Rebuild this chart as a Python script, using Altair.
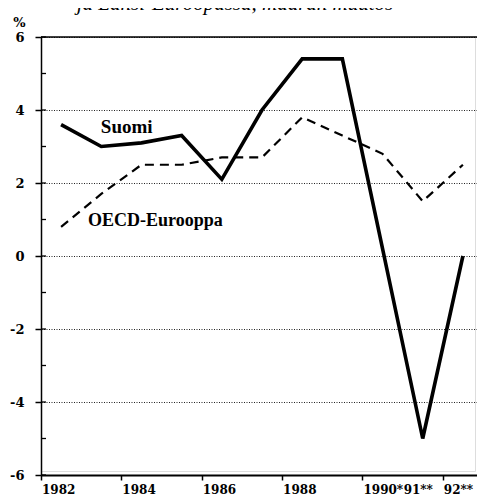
import altair as alt
import pandas as pd

# data
years = [1982, 1983, 1984, 1985, 1986, 1987, 1988, 1989, 1990, 1991, 1992]
suomi = [3.6, 3.0, 3.1, 3.3, 2.1, 4.0, 5.4, 5.4, 0.2, -5.0, 0.0]
oecd = [0.8, 1.7, 2.5, 2.5, 2.7, 2.7, 3.8, 3.3, 2.8, 1.5, 2.5]

tick_years = list(range(1982, 1994))
label_years = [1982, 1984, 1986, 1988, 1990, 1991, 1992]
label_texts = ["1982", "1984", "1986", "1988", "1990*", "91**", "92**"]
y_ticks = [-6, -4, -2, 0, 2, 4, 6]
minor_ticks = list(range(-6, 7))
x_domain = [1982, 1993]
y_domain = [-6, 6]

series_labels = ["Suomi", "OECD-Eurooppa"]
label_x = [1983.49, 1983.17]
label_y = [3.37, 0.82]
label_size = [19, 18]

title_text = "ja Länsi-Euroopassa, määrän muutos"

df = pd.DataFrame({"year": years, "Suomi": suomi, "OECD": oecd})
lab_df = pd.DataFrame({"label": series_labels, "lx": label_x, "ly": label_y, "fs": label_size})
xlab_df = pd.DataFrame({"yr": label_years, "txt": label_texts})
tick_df = pd.DataFrame({"v": minor_ticks})
title_df = pd.DataFrame({"t": [title_text]})
top_df = pd.DataFrame({"x1": [x_domain[0]], "x2": [x_domain[1]], "y": [y_domain[1]]})
right_df = pd.DataFrame({"x": [x_domain[1]], "y1": [y_domain[0]], "y2": [y_domain[1]]})

W, H = 434, 434        # view size (svg must stay narrow enough)
RW, RH = 442, 438      # drawing range of the scales

x_scale = alt.Scale(domain=x_domain, range=[0, RW], nice=False, zero=False)
y_scale = alt.Scale(domain=y_domain, range=[RH, 0], nice=False, zero=False)

x_axis = alt.Axis(
    values=tick_years, labels=False, title=None, grid=False, offset=RH - H,
    tickSize=5, tickWidth=1.5, tickColor="black",
    domainColor="black", domainWidth=2,
)
y_axis = alt.Axis(
    values=y_ticks, labelExpr="datum.value + ''", title="%", titleAngle=0,
    titleX=-22, titleY=-15,
    titleAlign="center", titleBaseline="middle", titleFont="DejaVu Serif",
    titleFontWeight="bold", titleFontSize=13, titleColor="black",
    grid=True, gridDash=[1, 1.5], gridColor="#222", gridWidth=1,
    tickSize=6, tickWidth=1.5, tickColor="black", labelPadding=11,
    labelFont="DejaVu Serif", labelFontWeight="bold", labelFontSize=13,
    labelColor="black", domainColor="black", domainWidth=1.5,
)

base = alt.Chart(df).transform_calculate(xpos="datum.year + 0.5")

suomi_line = base.mark_line(color="black", strokeWidth=3.6, strokeJoin="miter").encode(
    x=alt.X("xpos:Q", scale=x_scale, axis=x_axis),
    y=alt.Y("Suomi:Q", scale=y_scale, axis=y_axis),
)
oecd_line = base.mark_line(color="black", strokeWidth=2.2, strokeDash=[9, 6]).encode(
    x=alt.X("xpos:Q", scale=x_scale),
    y=alt.Y("OECD:Q", scale=y_scale),
)

labels = alt.Chart(lab_df).mark_text(
    align="left", baseline="alphabetic", font="Liberation Serif",
    fontWeight="bold", color="black",
).encode(
    x=alt.X("lx:Q", scale=x_scale),
    y=alt.Y("ly:Q", scale=y_scale),
    text="label:N",
    size=alt.Size("fs:Q", scale=None, legend=None),
)

x_labels = alt.Chart(xlab_df).mark_text(
    align="left", baseline="top", font="DejaVu Serif", fontWeight="bold",
    fontSize=12, color="black", dx=1,
).encode(
    x=alt.X("yr:Q", scale=x_scale),
    y=alt.value(RH + 10),
    text="txt:N",
)

left_ticks = alt.Chart(tick_df).mark_rule(color="black", strokeWidth=1.3).encode(
    y=alt.Y("v:Q", scale=y_scale), x=alt.value(0), x2=alt.value(5)
)
right_ticks = alt.Chart(tick_df).mark_rule(color="black", strokeWidth=1.3).encode(
    y=alt.Y("v:Q", scale=y_scale), x=alt.value(RW - 5), x2=alt.value(RW)
)
top_border = alt.Chart(top_df).mark_rule(color="black", strokeWidth=1.5).encode(
    x=alt.X("x1:Q", scale=x_scale), x2="x2:Q", y=alt.Y("y:Q", scale=y_scale)
)
right_border = alt.Chart(right_df).mark_rule(color="black", strokeWidth=1.5).encode(
    x=alt.X("x:Q", scale=x_scale), y=alt.Y("y1:Q", scale=y_scale), y2="y2:Q"
)

title_mark = alt.Chart(title_df).mark_text(
    align="center", baseline="alphabetic", font="Liberation Serif",
    fontStyle="italic", fontSize=21, color="black",
).encode(text="t:N", x=alt.value(194), y=alt.value(-27))

chart = alt.layer(
    left_ticks, right_ticks, top_border, right_border,
    oecd_line, suomi_line, labels, x_labels, title_mark,
).properties(
    width=W, height=H,
    autosize="none",
    padding={"left": 33, "top": 29, "right": 2, "bottom": 26},
).configure_view(stroke=None).configure(background="white")

chart.save("out.html", embed_options={"renderer": "svg", "actions": False})
